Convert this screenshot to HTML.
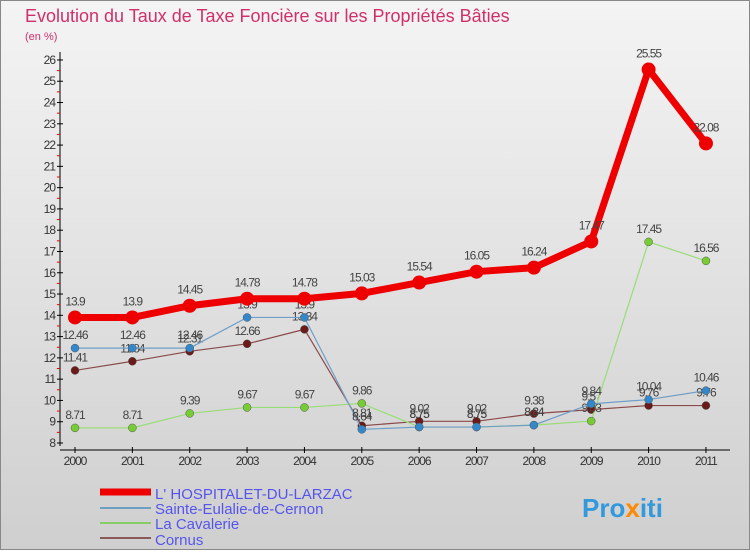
<!DOCTYPE html>
<html><head><meta charset="utf-8"><style>
body{margin:0;width:750px;height:550px;overflow:hidden;font-family:"Liberation Sans",sans-serif}
</style></head><body>
<svg id="c" width="750" height="550" xmlns="http://www.w3.org/2000/svg">
<defs><linearGradient id="bg" x1="0" y1="0" x2="0" y2="1"><stop offset="0" stop-color="#f4f4f4"/><stop offset="1" stop-color="#cfcfcf"/></linearGradient></defs>
<rect x="0.5" y="0.5" width="749" height="549" fill="url(#bg)" stroke="#888"/>
<text x="25" y="22" font-size="18" fill="#d0306a">Evolution du Taux de Taxe Foncière sur les Propriétés Bâties</text>
<text x="25" y="40" font-size="11" fill="#d0306a">(en %)</text>
<g id="plot"></g>
<g>
<line x1="100" y1="492" x2="151" y2="492" stroke="#ee0000" stroke-width="7"/>
<text x="155" y="499" font-size="15" fill="#5555ee">L' HOSPITALET-DU-LARZAC</text>
<line x1="100" y1="508" x2="151" y2="508" stroke="#6f9fc0" stroke-width="2"/>
<text x="155" y="514" font-size="15" fill="#5555ee">Sainte-Eulalie-de-Cernon</text>
<line x1="100" y1="523" x2="151" y2="523" stroke="#88cc66" stroke-width="2"/>
<text x="155" y="529" font-size="15" fill="#5555ee">La Cavalerie</text>
<line x1="100" y1="538" x2="151" y2="538" stroke="#8a5a5a" stroke-width="2"/>
<text x="155" y="545" font-size="15" fill="#5555ee">Cornus</text>
</g>
<text x="582" y="517" font-size="26" font-weight="bold" fill="#3399dd">Pro<tspan fill="#ff8800">x</tspan>iti</text>
</svg>
<script>
const years=[2000,2001,2002,2003,2004,2005,2006,2007,2008,2009,2010,2011];
const hosp=[13.9,13.9,14.45,14.78,14.78,15.03,15.54,16.05,16.24,17.47,25.55,22.08];
const eul=[12.46,12.46,12.46,13.9,13.9,8.64,8.75,8.75,8.84,9.84,10.04,10.46];
const cav=[8.71,8.71,9.39,9.67,9.67,9.86,8.75,8.75,8.84,9.03,17.45,16.56];
const cor=[11.41,11.84,12.31,12.66,13.34,8.81,9.02,9.02,9.38,9.57,9.76,9.76];
const yTicks=[8,9,10,11,12,13,14,15,16,17,18,19,20,21,22,23,24,25,26];
const NS="http://www.w3.org/2000/svg";
const g=document.getElementById('plot');
const X=i=>75+i*57.36, Y=v=>443-(v-8)*21.28;
function mk(t,a){const e=document.createElementNS(NS,t);for(const k in a)e.setAttribute(k,a[k]);g.appendChild(e);return e;}
let e=mk('line',{x1:60,y1:52,x2:60,y2:446,stroke:'#000'});

e=mk('line',{x1:60,y1:450,x2:730,y2:450,stroke:'#000'});

yTicks.forEach(v=>{mk('line',{x1:57,x2:63,y1:Y(v),y2:Y(v),stroke:'#000'});
 if(v<26)mk('line',{x1:57,x2:60,y1:Y(v+0.5),y2:Y(v+0.5),stroke:'#e00'});
 const t=mk('text',{x:55,y:Y(v)+4,'font-size':12,'text-anchor':'end',fill:'#333','letter-spacing':'-1'});t.textContent=v;
 });
years.forEach((y,i)=>{mk('line',{x1:X(i),x2:X(i),y1:447,y2:453,stroke:'#000'});
 const t=mk('text',{x:X(i),y:465,'font-size':12,'text-anchor':'middle',fill:'#333','letter-spacing':'-1'});t.textContent=y;
 });
function series(d,col,dot,w,r,name){
 const p=mk('polyline',{points:d.map((v,i)=>X(i)+','+Y(v)).join(' '),fill:'none',stroke:col,'stroke-width':w});
 
 d.forEach((v,i)=>{const c=mk('circle',{cx:X(i),cy:Y(v),r:r,fill:dot,stroke:'#555','stroke-width':r>5?0:0.5});
  
  const t=mk('text',{x:X(i),y:Y(v)-r-5,'font-size':12,'text-anchor':'middle',fill:'#444','letter-spacing':'-1'});t.textContent=v;
  });
}
series(cor,'#8a4a4a','#6b1a1a',1.2,4,'cornus');
series(cav,'#99dd77','#77cc33',1.2,4,'la-cavalerie');
series(eul,'#6f9fc8','#3388cc',1.2,4,'sainte-eulalie');
series(hosp,'#ee0000','#ee0000',7,7,'hospitalet');
</script>
</body></html>
